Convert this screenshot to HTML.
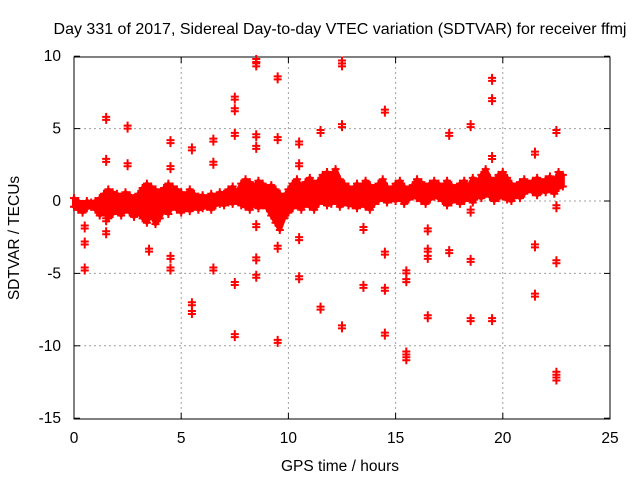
<!DOCTYPE html>
<html><head><meta charset="utf-8"><style>
body{margin:0;background:#fff}
svg{display:block;font-family:"Liberation Sans",sans-serif;font-size:15.5px}
</style></head><body>
<svg width="640" height="480">
<rect width="640" height="480" fill="#fff"/>
<text x="340" y="34" text-anchor="middle" font-size="16">Day 331 of 2017, Sidereal Day-to-day VTEC variation (SDTVAR) for receiver ffmj</text>
<g id="grid"></g>
<g id="axes"></g>
<g id="band"></g>
<g id="pts"></g>
<text x="340" y="471" text-anchor="middle">GPS time / hours</text>
<text x="0" y="0" transform="translate(19,238) rotate(-90)" text-anchor="middle">SDTVAR / TECUs</text>
</svg>
<script>
const xTicks=[0,5,10,15,20,25];
const yTicks=[10,5,0,-5,-10,-15];
const bandStart=0, bandStep=0.2;
const bandUpper=[0.2,0,-0.2,0,-0.1, 0,0.2,0.5,0.8,0.6, 0.5,0.3,0.6,0.4,0.2, 0.5,0.9,1.2,1.0,0.8, 0.6,0.9,1.2,1.0,0.8, 0.6,0.4,0.8,0.5,0.3, 0.4,0.2,0.5,0.3,0.6, 0.5,0.8,1.0,0.6,1.2, 1.5,1.3,1.0,1.4,1.2, 0.9,1.1,0.8,0.5,0.3, 0.8,1.2,1.5,1.0,1.3, 1.6,1.2,1.4,1.8,2.0, 1.8,2.2,1.5,1.2,1.0, 0.8,1.2,1.0,1.4,1.1, 0.9,1.2,1.5,1.0,0.8, 1.2,1.4,1.0,0.8,1.1, 1.5,1.3,1.0,1.2,1.4, 1.2,1.0,1.4,1.1,0.9, 1.2,1.4,1.0,1.6,1.3, 1.8,2.2,1.6,1.4,1.8, 2.0,1.6,1.2,1.0,1.3, 1.5,1.2,1.4,1.6,1.3, 1.5,1.7,1.4,2.0,1.8];
const bandLower=[-0.4,-0.6,-0.8,-0.5,-0.4, -0.6,-1.0,-0.8,-1.2,-0.9, -0.7,-1.0,-0.6,-0.8,-1.1, -0.8,-1.2,-1.5,-1.0,-1.6, -1.2,-0.6,-0.9,-0.4,-0.6, -0.8,-0.5,-0.7,-0.4,-0.6, -0.5,-0.4,-0.6,-0.3,-0.2, -0.3,-0.1,-0.2,0,-0.3, -0.4,-0.6,-0.2,-0.5,-0.3, -0.5,-1.0,-1.5,-2.0,-1.2, -0.8,-0.5,-0.3,-0.6,-0.2, -0.4,-0.6,-0.2,0,-0.3, -0.2,0,-0.4,-0.1,-0.3, -0.3,-0.5,-0.2,-0.4,-0.6, -0.2,0,0.2,-0.1,0.1, 0,0.2,-0.2,0.1,0.3, 0.2,0,-0.2,0.1,0.3, 0.2,0,-0.3,-0.1,0.1, -0.2,0,0.2,-0.1,0.3, 0.2,0.5,0.3,0,0.2, 0.3,0.1,0,0.4,0.2, 0.5,0.8,0.6,0.4,0.7, 0.6,0.8,0.5,0.9,1.0];
const outT=[1.5,1.5,2.5,2.5,4.5,4.5,5.5,6.5,6.5,7.5,7.5,7.5,8.5,8.5,8.5,8.5,9.5,9.5,10.5,10.5,11.5,12.5,12.5,12.5,14.5,17.5,18.5,19.5,19.5,19.5,21.5,22.5,
0.5,0.5,0.5,1.5,1.5,3.5,4.5,4.5,5.5,5.5,6.5,7.5,7.5,8.5,8.5,8.5,9.5,9.5,10.5,10.5,11.5,12.5,13.5,13.5,14.5,14.5,14.5,15.5,15.5,15.5,15.5,16.5,16.5,16.5,16.5,17.5,18.5,18.5,19.5,21.5,21.5,22.5,22.5,22.5,22.5,18.5];
const outV=[5.6,2.7,5,2.4,4,2.2,3.5,4.1,2.5,7,6.2,4.5,9.6,9.3,4.4,3.6,8.4,4.2,3.9,2.4,4.7,9.5,9.3,5.1,6.1,4.5,5.1,8.3,6.9,2.9,3.2,4.7,
-1.9,-3,-4.8,-2.3,-1.4,-3.5,-4,-4.8,-7.2,-7.8,-4.8,-5.8,-9.4,-4.1,-5.3,-1.8,-9.8,-3.3,-2.7,-5.4,-7.5,-8.8,-6,-2,-3.7,-6.2,-9.3,-5,-5.6,-10.6,-11,-8.1,-3.5,-4,-2.1,-3.6,-4.2,-8.3,-8.3,-3.2,-6.6,-4.3,-12,-12.4,-0.5,-0.8];

const X=v=>74+v*21.44, Y=v=>201-v*14.48;
const NS="http://www.w3.org/2000/svg";
function mk(p,tag,a){const e=document.createElementNS(NS,tag);for(const k in a)e.setAttribute(k,a[k]);p.appendChild(e);return e;}
const grid=document.getElementById('grid'),axes=document.getElementById('axes');
xTicks.forEach(t=>{
  if(t>0&&t<25){const l=mk(grid,'line',{x1:X(t),x2:X(t),y1:57,y2:419,stroke:'#a0a0a0','stroke-dasharray':'2,3'});
  
  }
  mk(axes,'line',{x1:X(t),x2:X(t),y1:419,y2:413,stroke:'#000'});
  mk(axes,'line',{x1:X(t),x2:X(t),y1:57,y2:63,stroke:'#000'});
  const tx=mk(axes,'text',{x:X(t),y:443,'text-anchor':'middle'});tx.textContent=t;
  
  
});
yTicks.forEach(t=>{
  if(t<10&&t>-15){const l=mk(grid,'line',{x1:74,x2:610,y1:Y(t),y2:Y(t),stroke:'#a0a0a0','stroke-dasharray':'2,3'});
  
  }
  mk(axes,'line',{x1:74,x2:80,y1:Y(t),y2:Y(t),stroke:'#000'});
  mk(axes,'line',{x1:610,x2:604,y1:Y(t),y2:Y(t),stroke:'#000'});
  const tx=mk(axes,'text',{x:61,y:Y(t)+5,'text-anchor':'end'});tx.textContent=t;
  
  
});
mk(axes,'rect',{x:74,y:57,width:536,height:362,fill:'none',stroke:'#000'});
const band=document.getElementById('band');
let d='';bandUpper.forEach((v,i)=>{d+=(i?'L':'M')+X(bandStart+i*bandStep)+','+Y(v);});
for(let i=bandLower.length-1;i>=0;i--)d+='L'+X(bandStart+i*bandStep)+','+Y(bandLower[i]);
const bp=mk(band,'path',{d:d+'Z',fill:'#f00',stroke:'#f00','stroke-width':4,'stroke-linejoin':'round'});


const pts=document.getElementById('pts');
function cross(x,y){const p=mk(pts,'path',{d:`M${x-4},${y}h8M${x},${y-4}v8`,stroke:'#f00','stroke-width':2});

}
bandUpper.forEach((v,i)=>cross(X(bandStart+i*bandStep),Y(v)));
bandLower.forEach((v,i)=>cross(X(bandStart+i*bandStep),Y(v)));
outT.forEach((t,i)=>{cross(X(t),Y(outV[i]));cross(X(t),Y(outV[i])-3);});
</script>
</body></html>
